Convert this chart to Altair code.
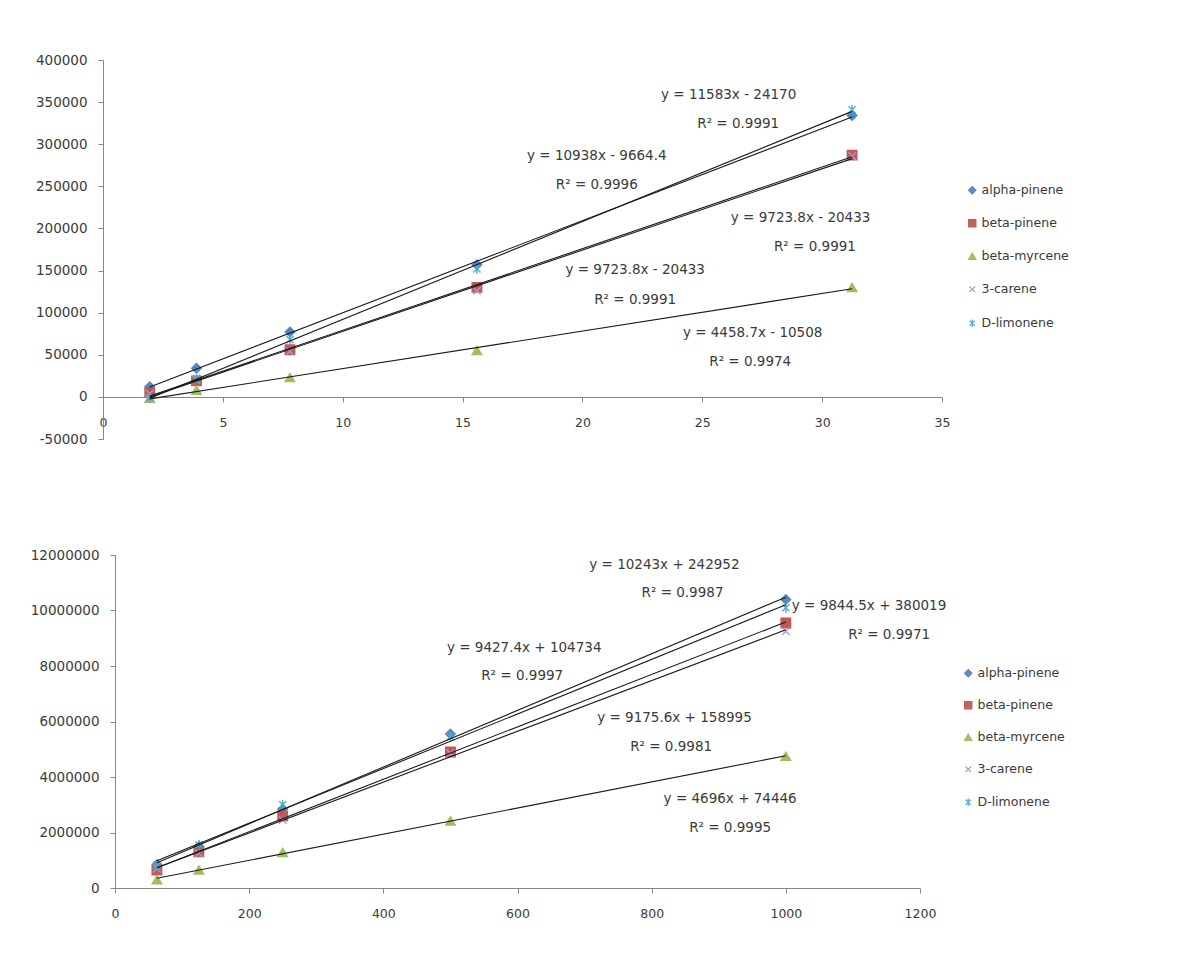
import altair as alt
import pandas as pd

series = ["alpha-pinene", "beta-pinene", "beta-myrcene", "3-carene", "D-limonene"]
colors = ["#4F81BD", "#C0504D", "#9BBB59", "#A99BC8", "#4BACC6"]
shapes = ["diamond", "square", "triangle-up",
          "M-0.8,-0.8L0.8,0.8M-0.8,0.8L0.8,-0.8",
          "M-0.75,-0.75L0.75,0.75M-0.75,0.75L0.75,-0.75M0,-1.05L0,1.05"]

# top panel
top_x = [1.95, 3.9, 7.8, 15.6, 31.25]
top_alpha = [12000, 34000, 77000, 157000, 334000]
top_beta_pinene = [5000, 19000, 56000, 130000, 287000]
top_myrcene = [-1500, 8000, 23000, 55000, 130000]
top_carene = [4000, 20000, 54000, 126000, 286000]
top_limonene = [-1000, 22000, 68000, 152000, 341000]

# bottom panel
bot_x = [62.5, 125, 250, 500, 1000]
bot_alpha = [850000, 1500000, 2850000, 5550000, 10400000]
bot_beta_pinene = [650000, 1300000, 2600000, 4900000, 9550000]
bot_myrcene = [300000, 650000, 1280000, 2420000, 4750000]
bot_carene = [700000, 1250000, 2450000, 4850000, 9250000]
bot_limonene = [800000, 1550000, 3000000, 5450000, 10100000]

top_eq = ["y = 11583x  - 24170", "R² = 0.9991",
          "y = 10938x  - 9664.4", "R² = 0.9996",
          "y = 9723.8x  - 20433", "R² = 0.9991",
          "y = 9723.8x  - 20433", "R² = 0.9991",
          "y = 4458.7x  - 10508", "R² = 0.9974"]
top_eq_x = [26.1, 26.5, 20.6, 20.6, 29.1, 29.7, 22.2, 22.2, 27.1, 27.0]
top_eq_y = [359000, 324600, 285500, 251200, 212100, 177700, 150500, 114900, 75800, 41500]

bot_eq = ["y = 10243x  + 242952", "R² = 0.9987",
          "y = 9844.5x  + 380019", "R² = 0.9971",
          "y = 9427.4x  + 104734", "R² = 0.9997",
          "y = 9175.6x  + 158995", "R² = 0.9981",
          "y = 4696x  + 74446", "R² = 0.9995"]
bot_eq_x = [819, 846, 1124, 1154, 610, 607, 834, 829, 917, 917]
bot_eq_y = [11640000, 10630000, 10160000, 9117000, 8649000, 7640000, 6126000, 5081000, 3207000, 2162000]


def long_df(xs, ys_list):
    rows = []
    for name, ys in zip(series, ys_list):
        for xv, yv in zip(xs, ys):
            rows.append({"x": xv, "y": yv, "series": name})
    return pd.DataFrame(rows)


top_df = long_df(top_x, [top_alpha, top_beta_pinene, top_myrcene, top_carene, top_limonene])
bot_df = long_df(bot_x, [bot_alpha, bot_beta_pinene, bot_myrcene, bot_carene, bot_limonene])

FONT = "DejaVu Sans"
TXT = "#3a3a3a"
AX = "#868686"


def panel(df, eq, eqx, eqy, xdom, xstep, ydom, ystep, w, h, xoffset, shift,
          legend_x, legend_y, rowpad):
    xs = alt.X("x:Q", scale=alt.Scale(domain=xdom, nice=False, zero=False, range=[shift, w]),
               axis=alt.Axis(values=list(range(xdom[0], xdom[1] + 1, xstep)), title=None,
                             grid=False, offset=xoffset, tickSize=5, labelPadding=14,
                             domainColor=AX, tickColor=AX, labelColor=TXT,
                             labelFontSize=12.5, labelFont=FONT, labelFlush=False,
                             labelExpr="'' + datum.value"))
    ys = alt.Y("y:Q", scale=alt.Scale(domain=ydom, nice=False, zero=False),
               axis=alt.Axis(values=list(range(ydom[0], ydom[1] + 1, ystep)), title=None,
                             grid=False, tickSize=5, labelPadding=11, offset=-shift,
                             domainColor=AX, tickColor=AX, labelColor=TXT,
                             labelFontSize=13.5, labelFont=FONT,
                             labelExpr="'' + datum.value"))
    base = alt.Chart(df)
    sc = alt.Scale(domain=series, range=colors)
    leg = alt.Legend(title=None, orient="none", legendX=legend_x, legendY=legend_y,
                     symbolSize=50, symbolStrokeWidth=1.3, labelFontSize=12.5,
                     labelFont=FONT, labelColor=TXT, rowPadding=rowpad, labelOffset=3)
    pts = base.mark_point(filled=True, size=90, strokeWidth=1.4, opacity=0.95).encode(
        x=xs, y=ys,
        fill=alt.Fill("series:N", scale=sc, legend=leg, sort=series),
        stroke=alt.Stroke("series:N", scale=sc, legend=leg, sort=series),
        shape=alt.Shape("series:N", scale=alt.Scale(domain=series, range=shapes),
                        legend=leg, sort=series),
    )
    lines = base.transform_regression("x", "y", groupby=["series"]).mark_line(
        color="#1a1a1a", strokeWidth=1.1).encode(
        x=alt.X("x:Q"), y=alt.Y("y:Q"), detail="series:N")
    ann_df = pd.DataFrame({"t": eq, "x": eqx, "y": eqy})
    ann = alt.Chart(ann_df).mark_text(fontSize=13.5, font=FONT, color=TXT).encode(
        x="x:Q", y="y:Q", text="t:N")
    return alt.layer(pts, lines, ann).properties(width=w, height=h)


top = panel(top_df, top_eq, top_eq_x, top_eq_y, [0, 35], 5, [-50000, 400000], 50000,
            839, 379, -42, 0, 863, 124, 20)
bot = panel(bot_df, bot_eq, bot_eq_x, bot_eq_y, [0, 1200], 200, [0, 12000000], 2000000,
            817, 333, 0, 12, 859, 112, 19)

chart = alt.concat(top, bot, columns=1, spacing=102).resolve_scale(
    fill="independent", stroke="independent", shape="independent",
    x="independent", y="independent").properties(
    padding={"left": 22, "top": 45, "right": 10, "bottom": 10},
    background="white"
).configure_view(stroke=None, strokeWidth=0)

chart.save("out.html", embed_options={"renderer": "svg", "actions": False})
